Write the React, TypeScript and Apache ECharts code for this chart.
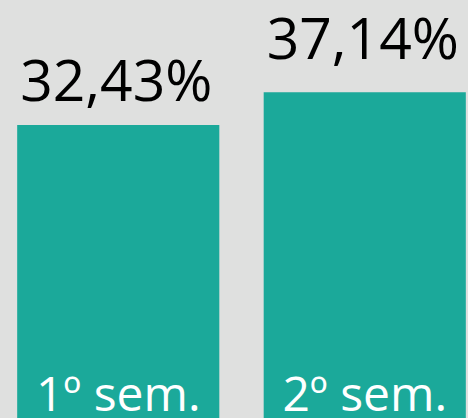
import React, { useEffect, useRef } from "react";
import * as echarts from "echarts";

const categories = ["1º sem.", "2º sem."];
const values = [32.43, 37.14];
const valueLabels = ["32,43%", "37,14%"];
const labelDistances = [18, 27];

export default function App() {
  const ref = useRef<HTMLDivElement>(null);
  useEffect(() => {
    document.body.style.margin = "0";
    document.body.style.overflow = "hidden";
    document.documentElement.style.overflow = "hidden";
    document.body.style.background = "#dfe0df";
    const chart = echarts.init(ref.current!, null, { renderer: "svg" });
    chart.setOption({
      animation: false,
      backgroundColor: "#dfe0df",
      grid: { left: 0, right: 0, top: 0, bottom: 0 },
      xAxis: {
        type: "category",
        data: categories,
        axisLine: { show: false },
        axisTick: { show: false },
        axisLabel: {
          inside: true,
          margin: 2,
          color: "#ffffff",
          fontFamily: "Open Sans",
          fontSize: 48,
        },
        z: 10,
      },
      yAxis: {
        type: "value",
        min: -9.4,
        max: 50.3,
        show: false,
        splitLine: { show: false },
      },
      series: [
        {
          type: "custom",
          encode: { x: 0, y: 1 },
          data: values.map((v, i) => [i, v]),
          renderItem: (params: any, api: any) => {
            const idx = api.value(0);
            const top = api.coord([idx, api.value(1)]);
            const band = api.size([1, 0])[0];
            const barW = band * 0.82;
            const cs = params.coordSys;
            const bottom = cs.y + cs.height;
            return {
              type: "rect",
              shape: {
                x: top[0] - barW / 2,
                y: top[1],
                width: barW,
                height: bottom - top[1],
              },
              style: { fill: "#1ba99a" },
              textContent: {
                style: {
                  text: valueLabels[params.dataIndex],
                  fill: "#000000",
                  fontFamily: "Open Sans",
                  fontSize: 57,
                },
              },
              textConfig: {
                position: "top",
                distance: labelDistances[params.dataIndex],
                offset: [-2, 0],
              },
            };
          },
        },
      ],
    });
    return () => chart.dispose();
  }, []);
  return (
    <div
      ref={ref}
      style={{ position: "absolute", left: -5, top: 0, width: 493, height: 418 }}
    />
  );
}
